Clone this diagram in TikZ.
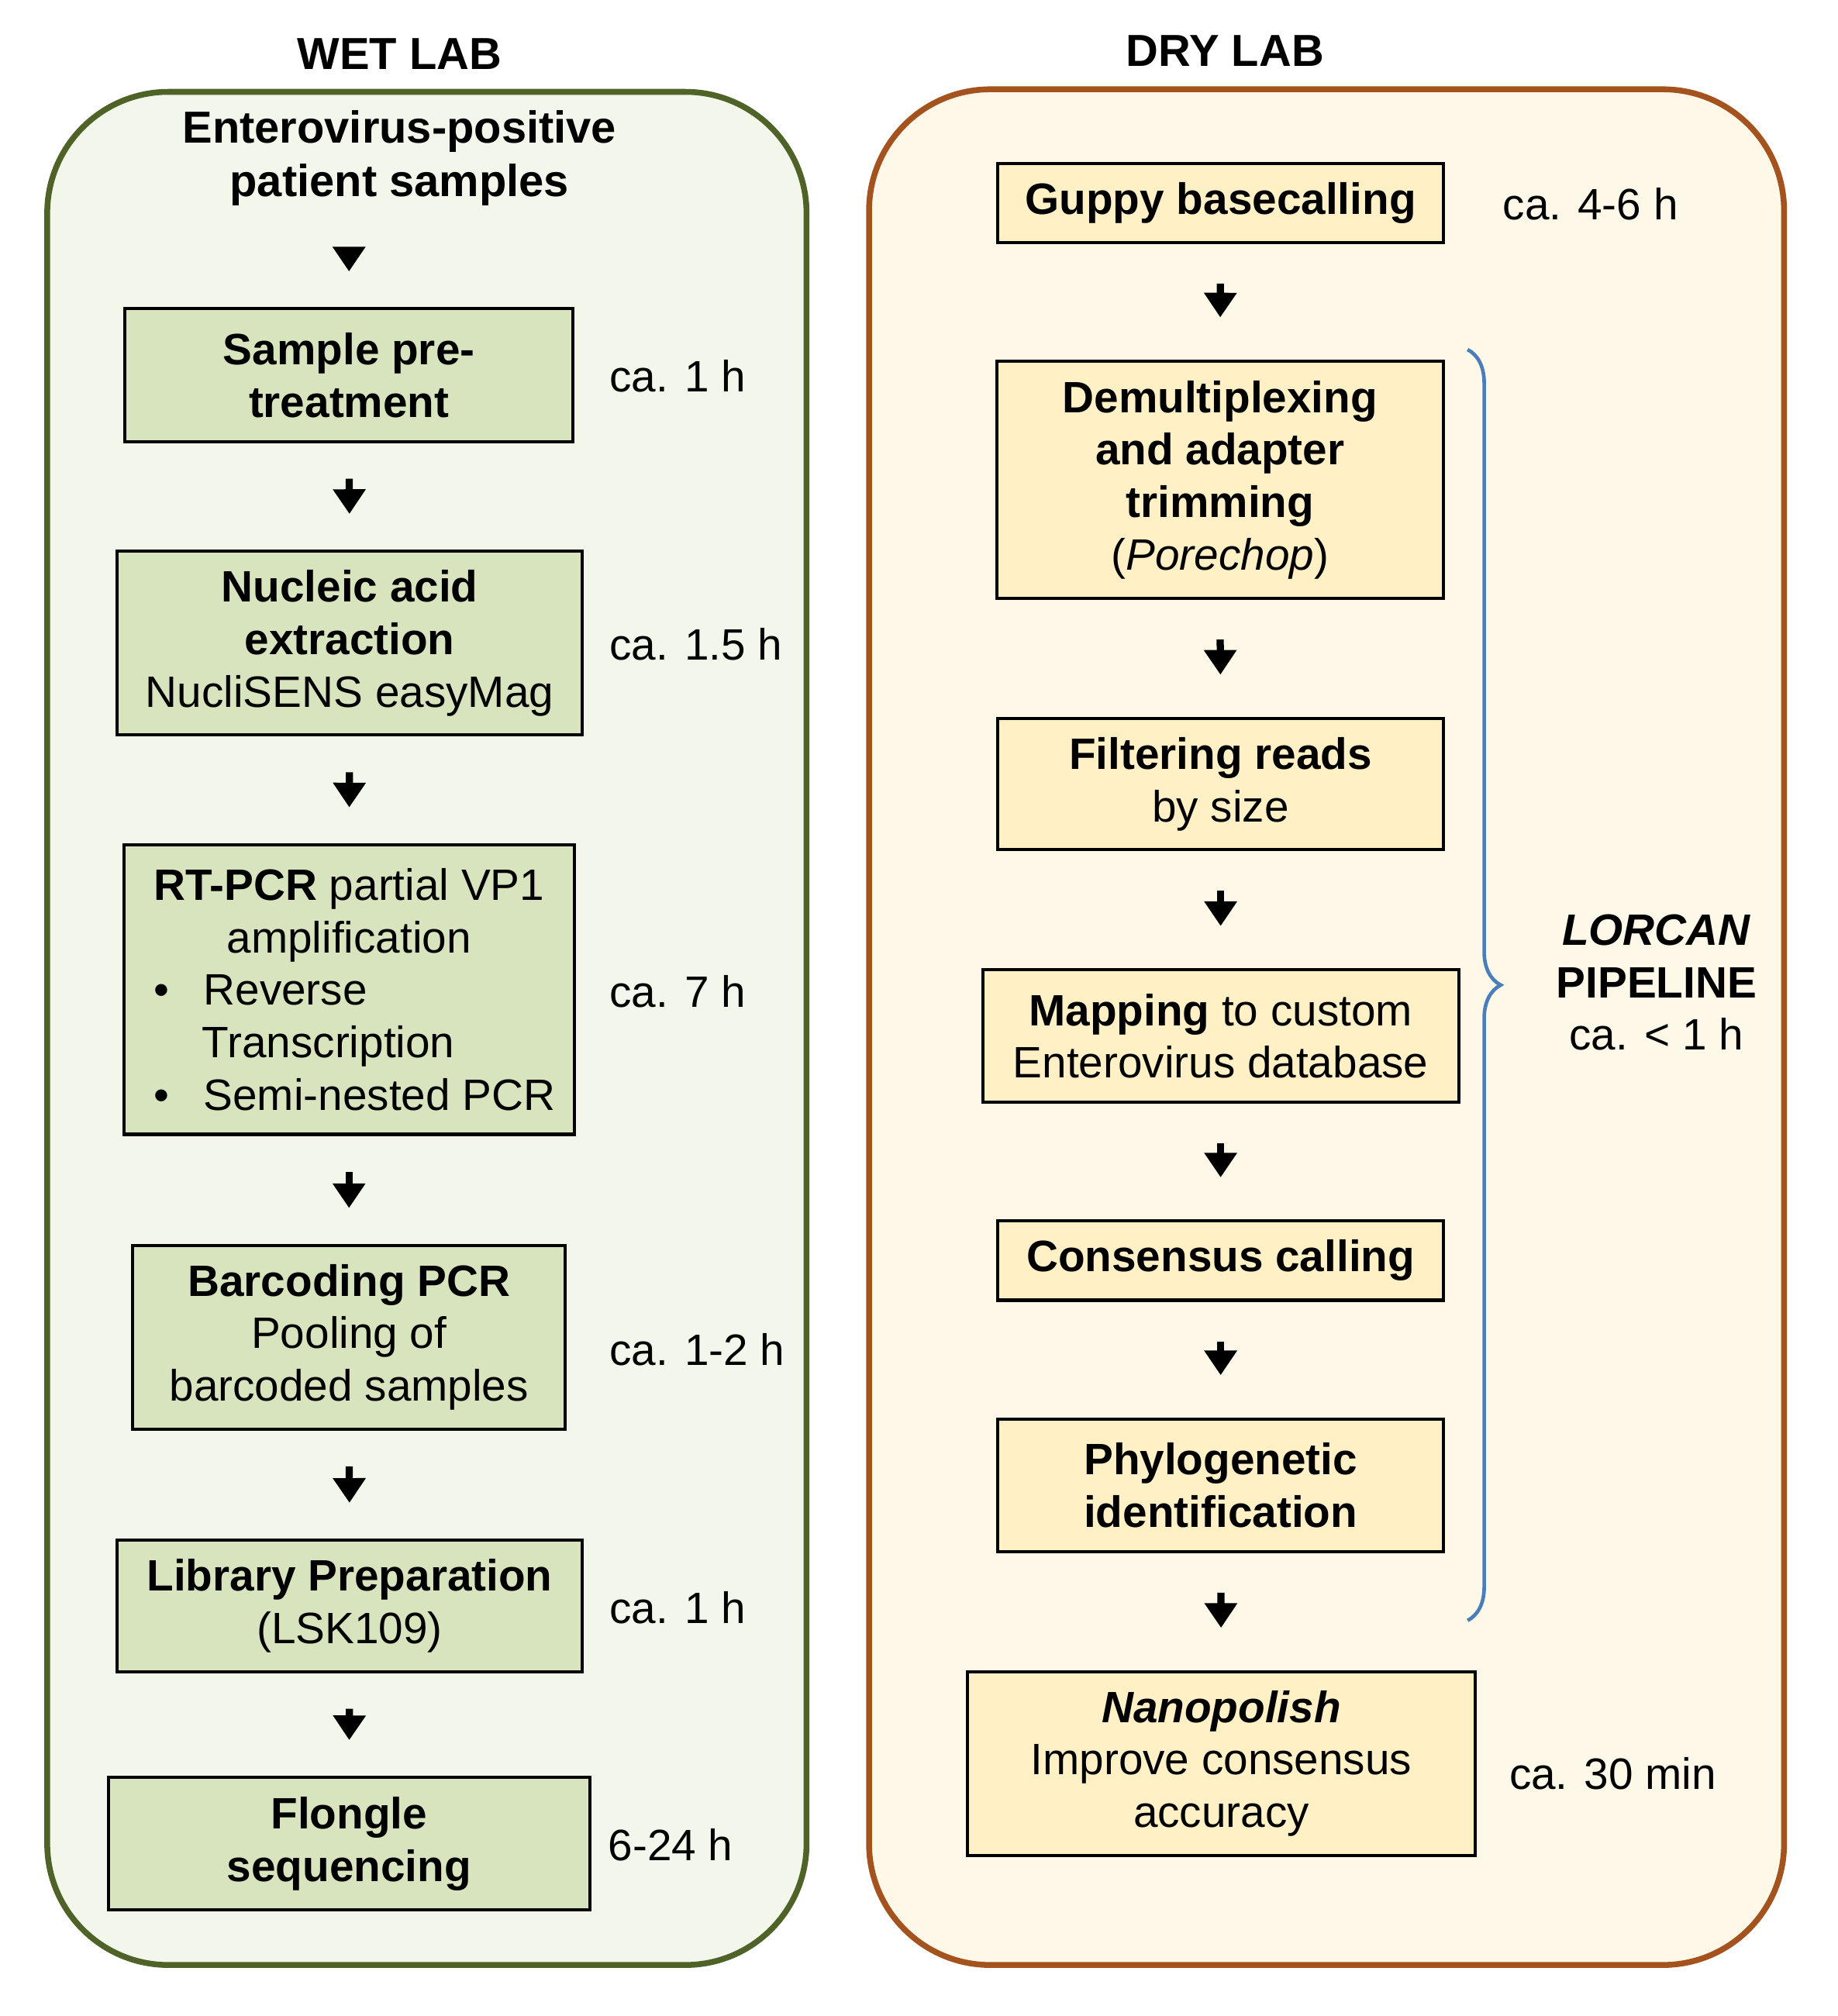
\documentclass[tikz,border=0pt]{standalone}
\usepackage{fontspec}
\setmainfont{Liberation Sans}
\usetikzlibrary{arrows.meta,decorations.pathreplacing}
\definecolor{wetline}{HTML}{4F6228}
\definecolor{wetfill}{HTML}{F3F7EB}
\definecolor{wetbox}{HTML}{D7E4BD}
\definecolor{dryline}{HTML}{A5531E}
\definecolor{dryfill}{HTML}{FEF8E9}
\definecolor{drybox}{HTML}{FFF0C6}
\definecolor{bracecol}{HTML}{4A7EBB}
\tikzset{
  panel/.style={line width=1.3pt, rounded corners=0.95cm},
  wet/.style={draw=black, fill=wetbox, line width=0.7pt, align=center, inner sep=0pt},
  dry/.style={draw=black, fill=drybox, line width=0.7pt, align=center, inner sep=0pt},
  flow/.style={-{Triangle[width=7pt,length=5.5pt]}, line width=1.6pt, shorten <=0.28cm, shorten >=0.28cm},
  time/.style={anchor=west, inner sep=0pt},
  title/.style={font=\bfseries}
}
\begin{document}
\begin{tikzpicture}[font=\fontsize{9.8}{11.7}\selectfont]
  \useasboundingbox (0,0) rectangle (14.4,-15.8);
  % panels
  \draw[panel, draw=wetline, fill=wetfill] (0.37,-0.72) rectangle (6.32,-15.40);
  \draw[panel, draw=dryline, fill=dryfill] (6.81,-0.70) rectangle (13.98,-15.40);
  \node[title] (wettitle) at (3.13,-0.42) {WET LAB};
  \node[title] (drytitle) at (9.60,-0.40) {DRY LAB};
  % wet lab
  \node[title, align=center] (w0) at (3.13,-1.24) {Enterovirus-positive\\patient samples};
  \node[wet, minimum width=3.51cm, minimum height=1.04cm] (w1) at (2.735,-2.94) {\textbf{Sample pre-}\\\textbf{treatment}};
  \node[wet, minimum width=3.64cm, minimum height=1.44cm] (w2) at (2.74,-5.04) {\textbf{Nucleic acid}\\\textbf{extraction}\\NucliSENS easyMag};
  \node[wet, minimum width=3.53cm, minimum height=2.27cm] (w3) at (2.735,-7.755) {\textbf{RT-PCR} partial VP1\\amplification\\
    \makebox[3.3cm][l]{\hspace{0.12cm}\textbullet\hspace{0.27cm}Reverse}\\
    \makebox[3.3cm][l]{\hspace{0.5cm}Transcription}\\
    \makebox[3.3cm][l]{\hspace{0.12cm}\textbullet\hspace{0.27cm}Semi-nested PCR}};
  \node[wet, minimum width=3.39cm, minimum height=1.44cm] (w4) at (2.735,-10.48) {\textbf{Barcoding PCR}\\Pooling of\\barcoded samples};
  \node[wet, minimum width=3.64cm, minimum height=1.03cm] (w5) at (2.74,-12.585) {\textbf{Library Preparation}\\(LSK109)};
  \node[wet, minimum width=3.77cm, minimum height=1.04cm] (w6) at (2.735,-14.45) {\textbf{Flongle}\\\textbf{sequencing}};
  \node[time] (t1) at (4.77,-2.95) {ca. 1 h};
  \node[time] (t2) at (4.77,-5.05) {ca. 1.5 h};
  \node[time] (t3) at (4.77,-7.77) {ca. 7 h};
  \node[time] (t4) at (4.77,-10.58) {ca. 1-2 h};
  \node[time] (t5) at (4.77,-12.60) {ca. 1 h};
  \node[time] (t6) at (4.76,-14.46) {6-24 h};
  \draw[flow, shorten <=0.22cm] (w0.south -| w1.north) -- (w1.north);
  \foreach \a/\b in {w1/w2, w2/w3, w3/w4, w4/w5, w5/w6}
    \draw[flow] (\a.south) -- (\b.north);
  % dry lab
  \node[dry, minimum width=3.49cm, minimum height=0.62cm] (d1) at (9.565,-1.59) {\textbf{Guppy basecalling}};
  \node[dry, minimum width=3.50cm, minimum height=1.86cm] (d2) at (9.56,-3.76) {\textbf{Demultiplexing}\\\textbf{and adapter}\\\textbf{trimming}\\(\textit{Porechop})};
  \node[dry, minimum width=3.49cm, minimum height=1.03cm] (d3) at (9.565,-6.145) {\textbf{Filtering reads}\\by size};
  \node[dry, minimum width=3.73cm, minimum height=1.04cm] (d4) at (9.565,-8.12) {\textbf{Mapping} to custom\\Enterovirus database};
  \node[dry, minimum width=3.49cm, minimum height=0.62cm] (d5) at (9.565,-9.88) {\textbf{Consensus calling}};
  \node[dry, minimum width=3.49cm, minimum height=1.04cm] (d6) at (9.565,-11.64) {\textbf{Phylogenetic}\\\textbf{identification}};
  \node[dry, minimum width=3.98cm, minimum height=1.44cm] (d7) at (9.57,-13.82) {\textbf{\textit{Nanopolish}}\\Improve consensus\\accuracy};
  \node[time] (t7) at (11.77,-1.60) {ca. 4-6 h};
  \node[time] (t8) at (11.82,-13.90) {ca. 30 min};
  \foreach \a/\b in {d1/d2, d2/d3, d3/d4, d4/d5, d5/d6, d6/d7}
    \draw[flow, shorten <=0.31cm, shorten >=0.33cm] (\a.south) -- (\b.north);
  % pipeline brace
  \coordinate (btop) at (11.50,-2.74);
  \coordinate (bbot) at (11.50,-12.70);
  \draw[bracecol, line width=0.8pt, decorate, decoration={brace, amplitude=0.26cm}] (btop) -- (bbot);
  \node[align=center] (lorcan) at (12.98,-7.70) {\textbf{\textit{LORCAN}}\\\textbf{PIPELINE}\\ca. < 1 h};
\end{tikzpicture}
\end{document}
